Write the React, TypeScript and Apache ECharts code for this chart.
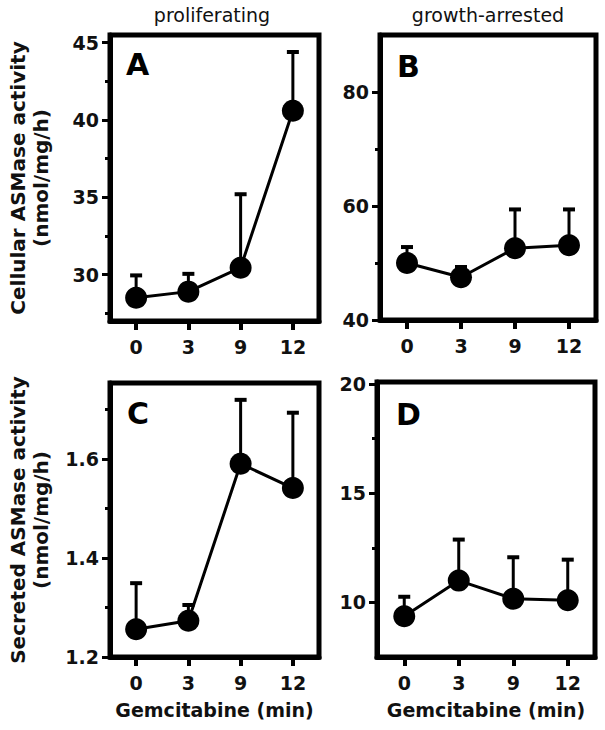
import React, { useEffect, useRef } from "react";
import * as echarts from "echarts";

const categories = ["0", "3", "9", "12"];

// Panel A: cellular, proliferating
const cellProlifMean = [28.5, 28.9, 30.45, 40.6];
const cellProlifUpper = [29.95, 30.05, 35.2, 44.4];
// Panel B: cellular, growth-arrested
const cellArrestMean = [50.0, 47.5, 52.6, 53.1];
const cellArrestUpper = [52.8, 49.3, 59.4, 59.4];
// Panel C: secreted, proliferating
const secProlifMean = [1.256, 1.273, 1.59, 1.541];
const secProlifUpper = [1.349, 1.305, 1.719, 1.693];
// Panel D: secreted, growth-arrested
const secArrestMean = [9.37, 11.0, 10.17, 10.1];
const secArrestUpper = [10.26, 12.88, 12.07, 11.96];

const majorA = [30, 35, 40, 45];
const minorA = [27.5, 32.5, 37.5, 42.5];
const majorB = [40, 60, 80];
const minorB = [50, 70];
const majorC = [1.2, 1.4, 1.6];
const minorC = [1.3, 1.5, 1.7];
const majorD = [10, 15, 20];
const minorD = [12.5, 17.5];

const panelLetters = ["A", "B", "C", "D"];
const columnTitles = ["proliferating", "growth-arrested"];
const yNames = ["Cellular ASMase activity\n(nmol/mg/h)", "Secreted ASMase activity\n(nmol/mg/h)"];
const xName = "Gemcitabine (min)";

const FONT = "DejaVu Sans";

export default function App() {
  const ref = useRef<HTMLDivElement>(null);
  useEffect(() => {
    if (!ref.current) return;
    const chart = echarts.init(ref.current, null, { renderer: "svg" });

    const grids = [
      { left: 110, top: 35, width: 209, height: 286 },
      { left: 380, top: 35, width: 216, height: 285 },
      { left: 110, top: 383, width: 209, height: 274 },
      { left: 377, top: 382, width: 218, height: 275 },
    ];
    const ranges = [
      { min: 27, max: 45.5, major: majorA, minor: minorA, dec: 0 },
      { min: 40, max: 90, major: majorB, minor: minorB, dec: 0 },
      { min: 1.2, max: 1.753, major: majorC, minor: minorC, dec: 1 },
      { min: 7.5, max: 20.1, major: majorD, minor: minorD, dec: 0 },
    ];
    const means = [cellProlifMean, cellArrestMean, secProlifMean, secArrestMean];
    const uppers = [cellProlifUpper, cellArrestUpper, secProlifUpper, secArrestUpper];

    const xAxis = grids.map((_, i) => ({
      type: "category",
      gridIndex: i,
      data: categories,
      boundaryGap: true,
      axisLine: { show: true, lineStyle: { color: "#000", width: 5 } },
      axisTick: { show: true, alignWithLabel: true, length: 9, lineStyle: { color: "#000", width: 4 } },
      axisLabel: {
        color: "#111",
        fontFamily: FONT,
        fontWeight: "bold",
        fontSize: 19,
        margin: 16,
      },
      name: i >= 2 ? xName : "",
      nameLocation: "middle",
      nameGap: 43,
      nameTextStyle: { color: "#111", fontFamily: FONT, fontWeight: "bold", fontSize: 19 },
      splitLine: { show: false },
    }));

    const yAxis: any[] = [];
    grids.forEach((_, i) => {
      const r = ranges[i];
      yAxis.push({
        type: "value",
        gridIndex: i,
        min: r.min,
        max: r.max,
        axisLine: { show: true, onZero: false, lineStyle: { color: "#000", width: 5 } },
        axisTick: { show: true, length: 8, customValues: r.major, lineStyle: { color: "#000", width: 3 } },
        axisLabel: {
          customValues: r.major,
          color: "#111",
          fontFamily: FONT,
          fontWeight: "bold",
          fontSize: 19,
          margin: 11,
          formatter: (v: number) => v.toFixed(r.dec),
        },
        splitLine: { show: false },
        name: i % 2 === 0 ? yNames[i / 2] : "",
        nameLocation: "middle",
        nameGap: 58,
        nameTextStyle: {
          color: "#111",
          fontFamily: FONT,
          fontWeight: "bold",
          fontSize: 20,
          lineHeight: 23,
          align: "center",
        },
      });
      yAxis.push({
        type: "value",
        gridIndex: i,
        min: r.min,
        max: r.max,
        position: "left",
        axisLine: { show: false },
        axisTick: { show: true, length: 5, customValues: r.minor, lineStyle: { color: "#000", width: 3 } },
        axisLabel: { show: false },
        splitLine: { show: false },
      });
    });

    const series: any[] = [];
    grids.forEach((_, i) => {
      series.push({
        type: "custom",
        xAxisIndex: i,
        yAxisIndex: 2 * i,
        z: 1,
        encode: { x: 0, y: [1, 2] },
        data: means[i].map((m, k) => [k, m, uppers[i][k]]),
        renderItem: (params: any, api: any) => {
          const x = api.value(0);
          const p0 = api.coord([x, api.value(1)]);
          const p1 = api.coord([x, api.value(2)]);
          const half = 6;
          return {
            type: "group",
            children: [
              {
                type: "line",
                shape: { x1: p0[0], y1: p0[1], x2: p1[0], y2: p1[1] },
                style: { stroke: "#000", lineWidth: 3 },
              },
              {
                type: "line",
                shape: { x1: p1[0] - half, y1: p1[1], x2: p1[0] + half, y2: p1[1] },
                style: { stroke: "#000", lineWidth: 4 },
              },
            ],
          };
        },
      });
      series.push({
        type: "line",
        xAxisIndex: i,
        yAxisIndex: 2 * i,
        z: 2,
        data: means[i],
        symbol: "circle",
        symbolSize: 22,
        itemStyle: { color: "#000" },
        lineStyle: { color: "#000", width: 3 },
      });
    });

    const letterPos = [
      [126, 49],
      [397, 51],
      [127, 398],
      [396, 399],
    ];
    const graphic: any[] = panelLetters.map((t, i) => ({
      type: "text",
      left: letterPos[i][0],
      top: letterPos[i][1],
      style: { text: t, fill: "#000", font: `bold 30px "${FONT}"` },
    }));
    const titleCenters = [212, 488];
    columnTitles.forEach((t, i) => {
      graphic.push({
        type: "text",
        x: titleCenters[i],
        y: 5,
        style: { text: t, fill: "#111", font: `19px "${FONT}"`, textAlign: "center", textVerticalAlign: "top" },
      });
    });

    chart.setOption({
      animation: false,
      backgroundColor: "#fff",
      grid: grids.map((g) => ({ ...g, show: true, borderColor: "#000", borderWidth: 5, backgroundColor: "transparent" })),
      xAxis,
      yAxis,
      series,
      graphic,
    });
    return () => chart.dispose();
  }, []);
  return <div ref={ref} style={{ position: "fixed", left: 0, top: 0, width: 605, height: 730 }} />;
}
